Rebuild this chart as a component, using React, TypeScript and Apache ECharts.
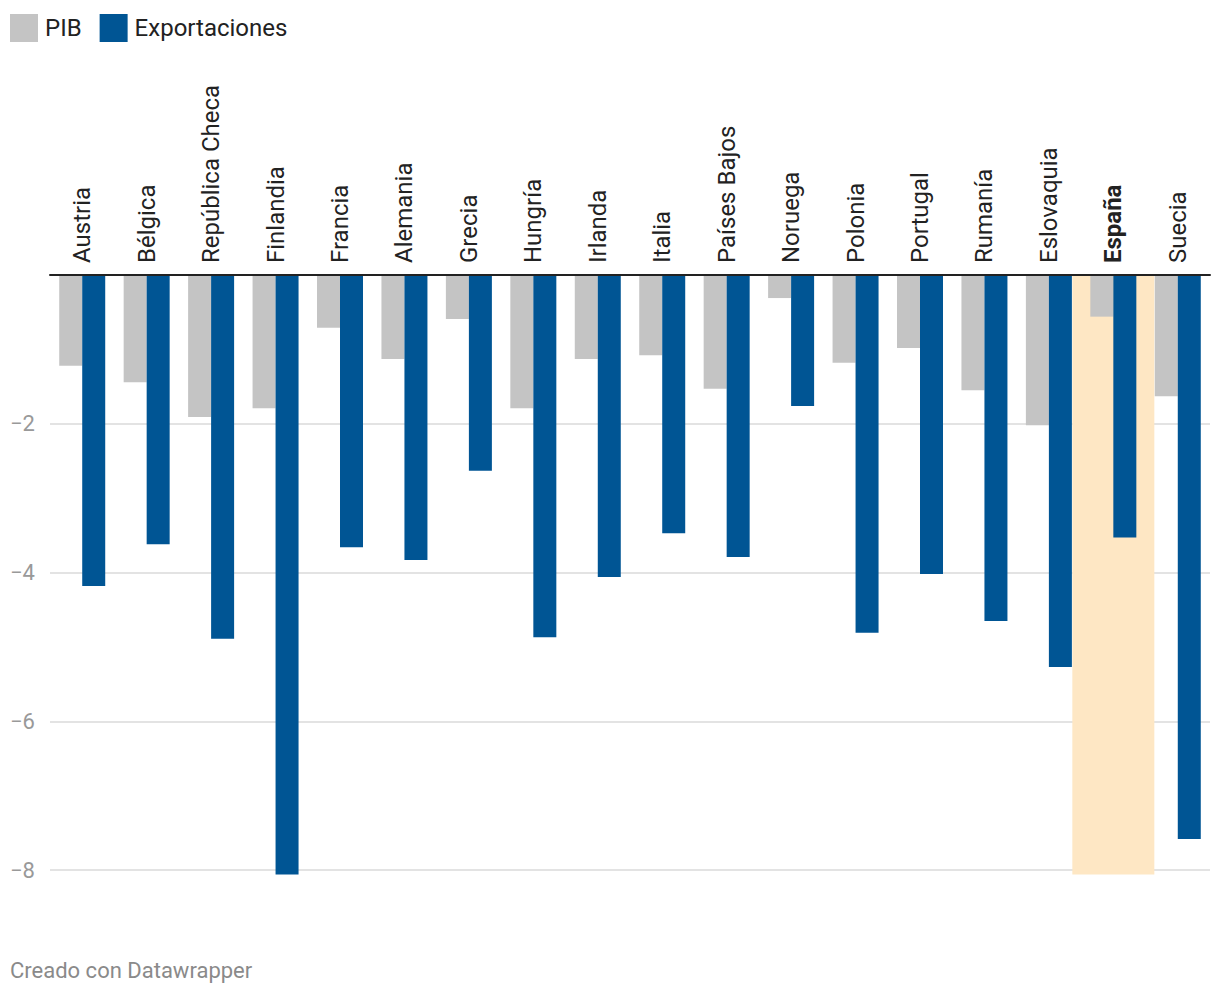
import React, { useEffect, useRef } from "react";
import * as echarts from "echarts";

const categories = [
  "Austria", "Bélgica", "República Checa", "Finlandia", "Francia", "Alemania",
  "Grecia", "Hungría", "Irlanda", "Italia", "Países Bajos", "Noruega",
  "Polonia", "Portugal", "Rumanía", "Eslovaquia", "España", "Suecia",
];
const pib = [-1.22, -1.44, -1.91, -1.79, -0.71, -1.13, -0.59, -1.79, -1.13, -1.08, -1.53, -0.31, -1.18, -0.98, -1.55, -2.02, -0.56, -1.63];
const exportaciones = [-4.18, -3.62, -4.89, -8.06, -3.66, -3.83, -2.63, -4.87, -4.06, -3.47, -3.79, -1.76, -4.81, -4.02, -4.65, -5.27, -3.53, -7.58];
const highlighted = "España";
const yTicks = [0, -2, -4, -6, -8];

export default function App() {
  const ref = useRef<HTMLDivElement>(null);
  useEffect(() => {
    const chart = echarts.init(ref.current!, null, { renderer: "svg" });
    const minVal = Math.min(...pib, ...exportaciones);
    const highlightData = categories.map((c) => (c === highlighted ? minVal : null));
    chart.setOption({
      animation: false,
      textStyle: { fontFamily: "Roboto" },
      legend: {
        left: 5,
        top: 9,
        itemWidth: 28,
        itemHeight: 28,
        itemGap: 18,
        icon: "rect",
        data: ["PIB", "Exportaciones"],
        textStyle: { fontSize: 24, color: "#222", fontFamily: "Roboto", padding: [0, 0, 0, 2] },
      },
      grid: { left: 50, right: 10, top: 275, bottom: 120.4 },
      xAxis: [
        {
          type: "category",
          data: categories,
          position: "top",
          axisLine: { show: true, lineStyle: { color: "#222", width: 2 } },
          axisTick: { show: false },
          axisLabel: {
            rotate: 90,
            interval: 0,
            margin: 12,
            fontSize: 24,
            color: "#222",
            fontFamily: "Roboto",
            formatter: (v: string) => (v === highlighted ? "{b|" + v + "}" : v),
            rich: { b: { fontWeight: "bold", fontSize: 24, color: "#222", fontFamily: "Roboto" } },
          },
          z: 10,
        },
        {
          type: "category",
          data: categories,
          position: "top",
          show: false,
        },
      ],
      yAxis: {
        type: "value",
        min: -8.1,
        max: 0,
        splitNumber: 4,
        axisLine: { show: false },
        axisTick: { show: false },
        splitLine: { show: true, showMinLine: false, lineStyle: { color: "#e3e3e3", width: 2 } },
        axisLabel: {
          showMinLabel: false,
          align: "left",
          margin: 40,
          fontSize: 22,
          color: "#999",
          fontFamily: "Roboto",
          customValues: yTicks,
          formatter: (v: number) => (v === 0 ? "" : "\u2212" + Math.abs(v)),
        },
      },
      series: [
        {
          name: "highlight",
          type: "bar",
          xAxisIndex: 1,
          data: highlightData,
          barWidth: 82,
          itemStyle: { color: "#fee7c4" },
          z: 1,
          silent: true,
        },
        {
          name: "PIB",
          type: "bar",
          data: pib,
          barWidth: 23,
          barGap: "0%",
          itemStyle: { color: "#c4c4c4" },
          z: 3,
        },
        {
          name: "Exportaciones",
          type: "bar",
          data: exportaciones,
          barWidth: 23,
          barGap: "0%",
          itemStyle: { color: "#005594" },
          z: 3,
        },
      ],
      graphic: [
        {
          type: "text",
          left: 10,
          top: 959,
          style: { text: "Creado con Datawrapper", fontSize: 22, fill: "#8a8a8a", fontFamily: "Roboto" },
        },
      ],
    });
    return () => chart.dispose();
  }, []);
  return (
    <div
      ref={ref}
      style={{ position: "fixed", left: 0, top: 0, width: 1220, height: 998, background: "#fff" }}
    />
  );
}
